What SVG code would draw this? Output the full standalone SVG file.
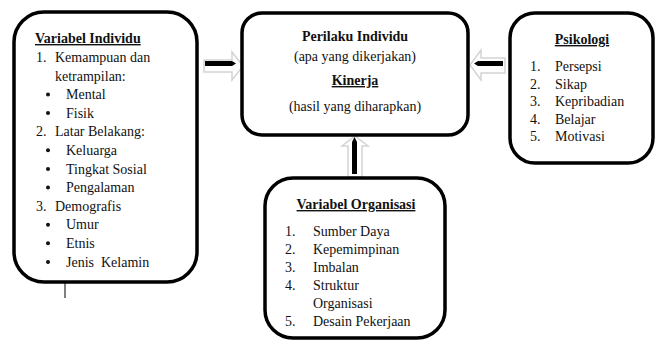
<svg xmlns="http://www.w3.org/2000/svg" width="657" height="341" viewBox="0 0 657 341">
<style>
.box{fill:#fff;stroke:#000;stroke-width:3.5}
.txt{font-family:'Liberation Serif','Times New Roman',serif;font-size:14px;fill:#111}
.b{font-weight:bold}
.u{text-decoration:underline}
.c{text-anchor:middle}
.shell{fill:#fff;stroke:#d4d4d4;stroke-width:1.5}
.bar{fill:#000}
</style>
<rect width="657" height="341" fill="#fff"/>
<g id="connectors">
  <g id="arrow-left">
    <polygon class="shell" points="204,60 232,60 232,52 243,66 232,80 232,72 204,72"/>
    <polygon class="bar" points="205,61 232,61 236,63.5 232,66 205,66"/>
  </g>
  <g id="arrow-right">
    <polygon class="shell" points="505,58 481,58 481,50 470,65 481,80 481,73 505,73"/>
    <polygon class="bar" points="503,61 478,61 474,63.5 478,66 503,66"/>
  </g>
  <g id="arrow-up">
    <polygon class="shell" points="348,177 348,146 342,146 355,136 368,146 362,146 362,177"/>
    <polygon class="bar" points="352,174 352,142 354.5,137 357,142 357,174"/>
  </g>
  <line x1="65" y1="283" x2="65" y2="298" stroke="#000" stroke-width="1"/>
</g>
<g id="variabel-individu" class="txt" font-family="Liberation Serif">
  <rect class="box" x="14" y="12" width="183" height="270" rx="30"/>
  <text class="b u" x="35" y="43">Variabel Individu</text>
  <text x="36" y="62">1.</text>
  <text x="55" y="62">Kemampuan dan</text>
  <text x="55" y="80.6">ketrampilan:</text>
  <circle cx="48" cy="94.5" r="2"/>
  <text x="66" y="99.2">Mental</text>
  <circle cx="48" cy="113.1" r="2"/>
  <text x="66" y="117.8">Fisik</text>
  <text x="36" y="136.4">2.</text>
  <text x="55" y="136.4">Latar Belakang:</text>
  <circle cx="48" cy="150.3" r="2"/>
  <text x="66" y="155">Keluarga</text>
  <circle cx="48" cy="168.9" r="2"/>
  <text x="66" y="173.6">Tingkat Sosial</text>
  <circle cx="48" cy="187.5" r="2"/>
  <text x="66" y="192.2">Pengalaman</text>
  <text x="36" y="210.8">3.</text>
  <text x="55" y="210.8">Demografis</text>
  <circle cx="48" cy="224.7" r="2"/>
  <text x="66" y="229.4">Umur</text>
  <circle cx="48" cy="243.3" r="2"/>
  <text x="66" y="248">Etnis</text>
  <circle cx="48" cy="261.9" r="2"/>
  <text x="66" y="266.6" xml:space="preserve">Jenis  Kelamin</text>
</g>
<g id="perilaku-individu" class="txt" font-family="Liberation Serif">
  <rect class="box" x="242" y="13" width="226" height="122" rx="20"/>
  <text class="b c" x="355" y="41">Perilaku Individu</text>
  <text class="c" x="355" y="61">(apa yang dikerjakan)</text>
  <text class="b u c" x="355" y="85">Kinerja</text>
  <text class="c" x="355" y="111">(hasil yang diharapkan)</text>
</g>
<g id="psikologi" class="txt" font-family="Liberation Serif">
  <rect class="box" x="510" y="13" width="143" height="150" rx="25"/>
  <text class="b u c" x="582" y="44">Psikologi</text>
  <text x="530" y="71">1.</text>
  <text x="555" y="71">Persepsi</text>
  <text x="530" y="88.5">2.</text>
  <text x="555" y="88.5">Sikap</text>
  <text x="530" y="106">3.</text>
  <text x="555" y="106">Kepribadian</text>
  <text x="530" y="123.5">4.</text>
  <text x="555" y="123.5">Belajar</text>
  <text x="530" y="141">5.</text>
  <text x="555" y="141">Motivasi</text>
</g>
<g id="variabel-organisasi" class="txt" font-family="Liberation Serif">
  <rect class="box" x="265" y="178" width="180" height="160" rx="28"/>
  <text class="b u c" x="356" y="209">Variabel Organisasi</text>
  <text x="285" y="236">1.</text>
  <text x="313" y="236">Sumber Daya</text>
  <text x="285" y="254">2.</text>
  <text x="313" y="254">Kepemimpinan</text>
  <text x="285" y="272">3.</text>
  <text x="313" y="272">Imbalan</text>
  <text x="285" y="290">4.</text>
  <text x="313" y="290">Struktur</text>
  <text x="313" y="308">Organisasi</text>
  <text x="285" y="326">5.</text>
  <text x="313" y="326">Desain Pekerjaan</text>
</g>
</svg>
